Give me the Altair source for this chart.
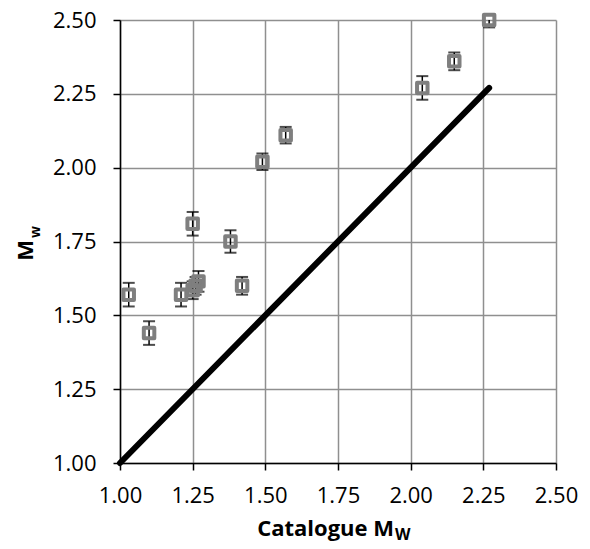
import altair as alt
import pandas as pd

catalogue_mw = [1.03, 1.10, 1.21, 1.25, 1.25, 1.26, 1.27, 1.38, 1.42, 1.49, 1.57, 2.04, 2.15, 2.27]
measured_mw = [1.57, 1.44, 1.57, 1.81, 1.585, 1.60, 1.615, 1.75, 1.60, 2.02, 2.11, 2.27, 2.36, 2.50]
mw_error = [0.04, 0.04, 0.04, 0.04, 0.03, 0.03, 0.035, 0.038, 0.03, 0.028, 0.028, 0.04, 0.03, 0.025]

line_x = [1.00, 2.27]
line_y = [1.00, 2.27]

tick_values = [1.00, 1.25, 1.50, 1.75, 2.00, 2.25, 2.50]

df = pd.DataFrame({
    "cat": catalogue_mw,
    "mw": measured_mw,
    "lo": [m - e for m, e in zip(measured_mw, mw_error)],
    "hi": [m + e for m, e in zip(measured_mw, mw_error)],
})
line_df = pd.DataFrame({"x": line_x, "y": line_y})

FONT = "Open Sans"

xscale = alt.Scale(domain=[1.0, 2.5], nice=False, zero=False)
yscale = alt.Scale(domain=[1.0, 2.5], nice=False, zero=False)

common = dict(values=tick_values, format=".2f", title=None, grid=True,
              gridColor="#8f8f8f", gridWidth=1.5, domainColor="black", domainWidth=1.5,
              tickColor="black", tickSize=7, tickWidth=1.5, labelFontSize=22,
              labelFont=FONT, labelColor="black", labelFlush=False, labelOverlap=False,
              labelBound=False)
xaxis = alt.Axis(labelPadding=15, **common)
yaxis = alt.Axis(labelPadding=17, **common)

base = alt.Chart(df)

line = alt.Chart(line_df).mark_line(color="black", strokeWidth=6, strokeCap="round").encode(
    x=alt.X("x:Q", scale=xscale, axis=xaxis),
    y=alt.Y("y:Q", scale=yscale, axis=yaxis),
)

rules = base.mark_rule(color="black", strokeWidth=1.5, clip=True).encode(
    x=alt.X("cat:Q", scale=xscale),
    y=alt.Y("lo:Q", scale=yscale),
    y2="hi:Q",
)
caps_lo = base.mark_tick(color="black", orient="horizontal", size=12, thickness=2, clip=True).encode(
    x=alt.X("cat:Q", scale=xscale),
    y=alt.Y("lo:Q", scale=yscale),
)
caps_hi = base.mark_tick(color="black", orient="horizontal", size=12, thickness=2, clip=True).encode(
    x=alt.X("cat:Q", scale=xscale),
    y=alt.Y("hi:Q", scale=yscale),
)
points = base.mark_square(filled=False, color="#7f7f7f", strokeWidth=4, size=110,
                          strokeJoin="round", opacity=1).encode(
    x=alt.X("cat:Q", scale=xscale),
    y=alt.Y("mw:Q", scale=yscale),
)

xt_main = alt.Chart(pd.DataFrame({"t": ["Catalogue M"]})).mark_text(
    font=FONT, fontSize=22, fontWeight="bold", align="right", baseline="alphabetic", color="black"
).encode(x=alt.value(274), y=alt.value(516), text="t:N")
xt_sub = alt.Chart(pd.DataFrame({"t": ["W"]})).mark_text(
    font=FONT, fontSize=16, fontWeight="bold", align="left", baseline="alphabetic", color="black"
).encode(x=alt.value(275), y=alt.value(520), text="t:N")

yt_main = alt.Chart(pd.DataFrame({"t": ["M"]})).mark_text(
    font=FONT, fontSize=22, fontWeight="bold", align="right", baseline="alphabetic",
    angle=270, color="black"
).encode(x=alt.value(-87), y=alt.value(220), text="t:N")
yt_sub = alt.Chart(pd.DataFrame({"t": ["w"]})).mark_text(
    font=FONT, fontSize=14, fontWeight="bold", align="right", baseline="alphabetic",
    angle=270, color="black"
).encode(x=alt.value(-80), y=alt.value(206), text="t:N")

chart = alt.layer(line, rules, caps_lo, caps_hi, points, xt_main, xt_sub, yt_main, yt_sub).properties(
    width=436, height=443,
    autosize=alt.AutoSizeParams(type="none"),
    padding={"left": 112, "top": 12, "right": 26, "bottom": 78},
    background="white",
).configure_view(stroke=None)

chart.save("out.html", embed_options={"renderer": "svg", "actions": False})
